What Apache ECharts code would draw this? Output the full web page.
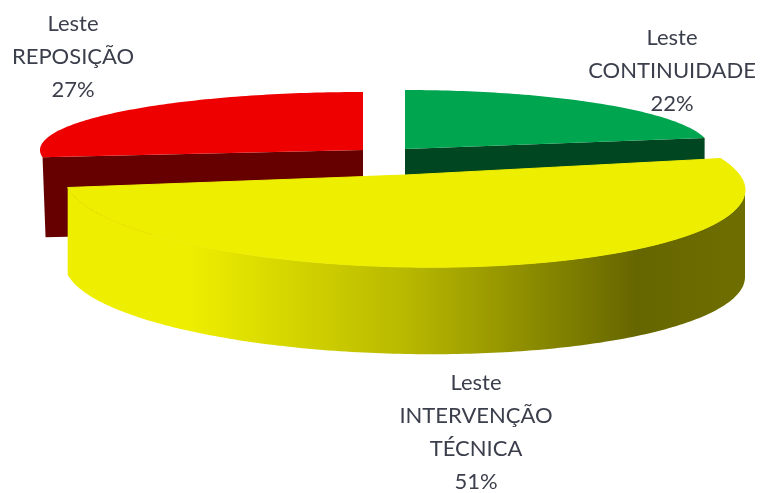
<!DOCTYPE html>
<html>
<head>
<meta charset="utf-8">
<style>html,body{margin:0;padding:0;background:#fff}#chart{width:762px;height:493px}</style>
<script src="https://cdn.jsdelivr.net/npm/echarts@6/dist/echarts.min.js"></script>
</head>
<body>
<div id="chart"></div>
<script>
// fatias na ordem do grafico, a partir das 12 horas em sentido horario
var names = ['Leste\nCONTINUIDADE', 'Leste\nINTERVENÇÃO\nTÉCNICA', 'Leste\nREPOSIÇÃO'];
var shares = [22, 51, 27];

// aparencia de cada fatia (elipse, explosao, cores, posicao do rotulo)
var looks = [
    { cx: 405, cy: 149, a: 305, b: 59, skew: 0, apexY: 149, drop: 80, startNudge: 0, z: 1,
      top: '#00a54f', side: '#004620', labelX: 672, labelY: 71 },
    { cx: 405, cy: 183.5, a: 340, b: 83.5, skew: 6.5, apexY: 175, drop: 87, startNudge: -11, z: 5,
      top: '#eeee00', side: null, labelX: 476, labelY: 432 },
    { cx: 363, cy: 150, a: 323, b: 58, skew: 0, apexY: 150, drop: 80, startNudge: 0, z: 1,
      top: '#ee0000', side: '#660000', labelX: 73, labelY: 57 }
];

var total = shares.reduce(function (s, v) { return s + v; }, 0);

function rim(l, deg) {
    var t = deg * Math.PI / 180;
    return [l.cx + l.a * Math.sin(t), l.cy - l.b * Math.cos(t) + l.skew * Math.sin(t)];
}

function arc(l, from, to, dy) {
    var pts = [];
    for (var d = from; d < to; d += 1) {
        var p = rim(l, d);
        pts.push([p[0], p[1] + dy]);
    }
    var e = rim(l, to);
    pts.push([e[0], e[1] + dy]);
    return pts;
}

function renderSlice(params, api) {
    var i = params.dataIndex;
    var l = looks[i];
    var before = 0;
    for (var k = 0; k < i; k++) before += shares[k];
    var from = before / total * 360 + l.startNudge;
    var to = (before + api.value(0)) / total * 360;
    var apex = [l.cx, l.apexY];
    var children = [];

    if (l.side) {
        // face do corte, quase toda coberta pela fatia amarela
        var endAngle = i === 0 ? to : from;
        var e = rim(l, endAngle);
        children.push({
            type: 'polygon', z2: l.z,
            shape: { points: [apex, e, [e[0] + (i === 2 ? 3 : 0), e[1] + l.drop], [apex[0], apex[1] + l.drop]] },
            style: { fill: l.side }
        });
    } else {
        // lateral externa com degrade
        var upper = arc(l, 90, to, 0);
        var lower = arc(l, 90, to, l.drop).reverse();
        children.push({
            type: 'polygon', z2: l.z,
            shape: { points: upper.concat(lower) },
            style: {
                fill: new echarts.graphic.LinearGradient(0, 0, 1, 0, [
                    { offset: 0, color: '#eeee00' },
                    { offset: 0.18, color: '#eeee00' },
                    { offset: 0.5, color: '#b8b800' },
                    { offset: 0.84, color: '#666600' },
                    { offset: 1, color: '#6e6e00' }
                ])
            }
        });
    }
    children.push({
        type: 'polygon', z2: l.z + 1,
        shape: { points: [apex].concat(arc(l, from, to, 0)) },
        style: { fill: l.top, stroke: l.side ? null : l.top, lineWidth: 1 }
    });
    children.push({
        type: 'text', z2: 20,
        style: {
            x: l.labelX, y: l.labelY,
            text: api.value(1) + '\n' + api.value(0) + '%',
            fill: '#3b3f4c',
            font: '22px Lato',
            lineHeight: 33,
            align: 'center',
            verticalAlign: 'middle'
        }
    });
    return { type: 'group', children: children };
}

var chart = echarts.init(document.getElementById('chart'), null, { renderer: 'canvas' });
var option = {
    animation: false,
    backgroundColor: '#fff',
    series: [{
        type: 'custom',
        coordinateSystem: 'none',
        renderItem: renderSlice,
        dimensions: [{ name: 'share', type: 'number' }, { name: 'name', type: 'ordinal' }],
        data: shares.map(function (v, i) { return [v, names[i]]; })
    }]
};
chart.setOption(option);
</script>
</body>
</html>
